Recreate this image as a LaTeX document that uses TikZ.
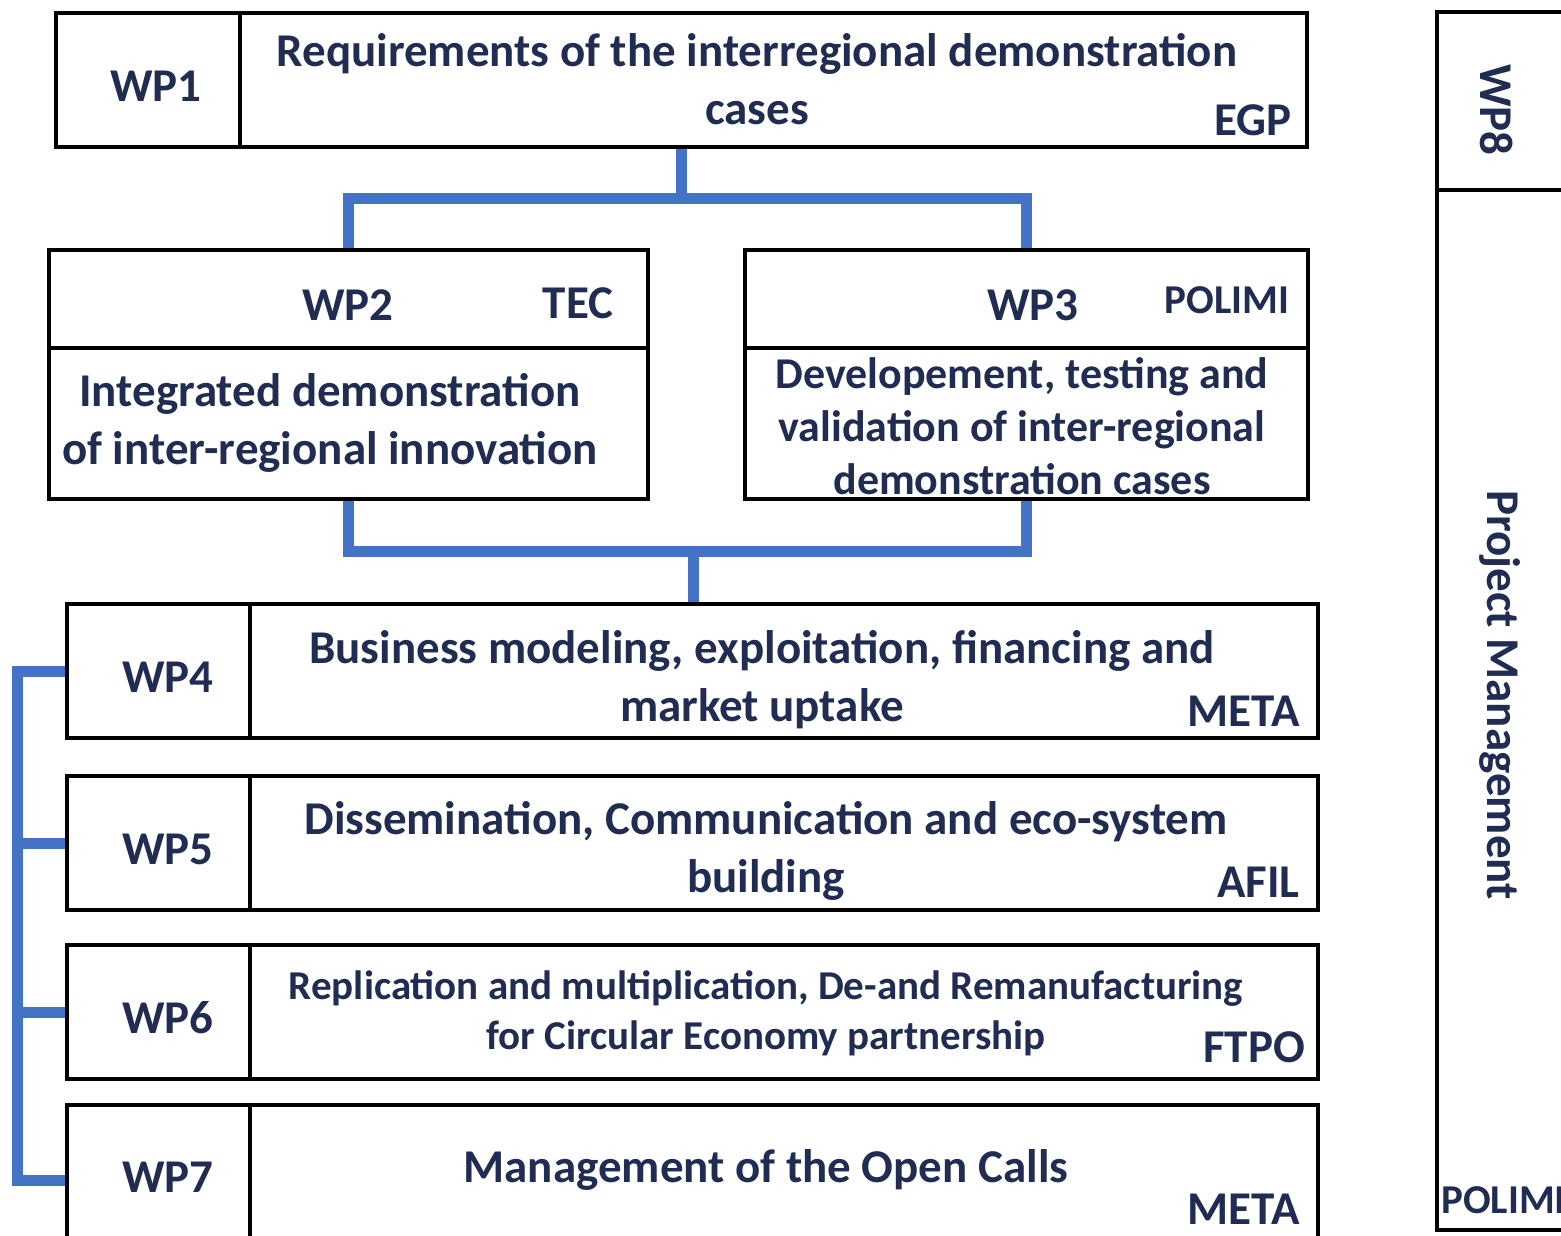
\documentclass[tikz,border=0pt]{standalone}
\usepackage{fontspec}
\setmainfont{Carlito}
\usetikzlibrary{positioning}
\definecolor{wpnavy}{RGB}{32,44,82}
\definecolor{wpblue}{RGB}{68,114,196}

\begin{document}
\begin{tikzpicture}[x=1pt,y=-1pt,
    cell/.style={draw=black,line width=4pt,inner sep=0pt},
    txt/.style={text=wpnavy,font=\bfseries\fontsize{47}{58}\selectfont,
                align=center,inner sep=0pt},
    small/.style={txt,font=\bfseries\fontsize{41}{50}\selectfont},
    lead/.style={txt,anchor=east},
    link/.style={draw=wpblue,line width=11pt}]
  \useasboundingbox (0,0) rectangle (1561,1235);
  \clip (0,0) rectangle (1561,1235);

  % WP1
  \node[cell,minimum width=184pt,minimum height=134pt] (wp1)  at (148,80)  {};
  \node[cell,minimum width=1067pt,minimum height=134pt] (wp1t) at (773.5,80) {};
  \node[txt]  (wp1l) at (156,86)   {WP1};
  \node[txt]  (wp1d) at (757,79)   {Requirements of the interregional demonstration\\cases};
  \node[lead] (egp)  at (1292,120) {EGP};

  % WP2 and WP3
  \node[cell,minimum width=599pt,minimum height=98pt]  (wp2)  at (348.5,299)   {};
  \node[cell,minimum width=599pt,minimum height=151pt] (wp2t) at (348.5,423.5) {};
  \node[txt]  (wp2l) at (348,305) {WP2};
  \node[txt]  (tec)  at (578,303) {TEC};
  \node[txt]  (wp2d) at (330,423) {Integrated demonstration\\of inter-regional innovation};

  \node[cell,minimum width=563pt,minimum height=98pt]  (wp3)  at (1026.5,299)   {};
  \node[cell,minimum width=563pt,minimum height=151pt] (wp3t) at (1026.5,423.5) {};
  \node[txt]   (wp3l) at (1033,305) {WP3};
  \node[small] (pol3) at (1227,300) {POLIMI};
  \node[txt,font=\bfseries\fontsize{44}{53}\selectfont]
               (wp3d) at (1022,426) {Developement, testing and\\validation of inter-regional\\demonstration cases};

  % WP4 - WP7
  \node[cell,minimum width=183pt,minimum height=134pt]  (wp4)  at (158.5,671) {};
  \node[cell,minimum width=1068pt,minimum height=134pt] (wp4t) at (784,671)   {};
  \node[txt]  (wp4l) at (168,677) {WP4};
  \node[txt]  (wp4d) at (762,680) {Business modeling, exploitation, financing and\\market uptake};
  \node[lead] (meta) at (1300,711) {META};

  \node[cell,minimum width=183pt,minimum height=134pt]  (wp5)  at (158.5,843) {};
  \node[cell,minimum width=1068pt,minimum height=134pt] (wp5t) at (784,843)   {};
  \node[txt]  (wp5l) at (168,849) {WP5};
  \node[txt]  (wp5d) at (766,851) {Dissemination, Communication and eco-system\\building};
  \node[lead] (afil) at (1300,882) {AFIL};

  \node[cell,minimum width=183pt,minimum height=134pt]  (wp6)  at (158.5,1012) {};
  \node[cell,minimum width=1068pt,minimum height=134pt] (wp6t) at (784,1012)   {};
  \node[txt]   (wp6l) at (168,1018) {WP6};
  \node[small] (wp6d) at (766,1013) {Replication and multiplication, De-and Remanufacturing\\for Circular Economy partnership};
  \node[lead]  (ftpo) at (1305,1047) {FTPO};

  \node[cell,minimum width=183pt,minimum height=145pt]  (wp7)  at (158.5,1177.5) {};
  \node[cell,minimum width=1068pt,minimum height=145pt] (wp7t) at (784,1177.5)   {};
  \node[txt]  (wp7l) at (168,1177) {WP7};
  \node[txt]  (wp7d) at (766,1170) {Management of the Open Calls};
  \node[lead] (meta7) at (1300,1209) {META};

  % WP8
  \node[cell,minimum width=163pt,minimum height=178pt]  (wp8)  at (1518.5,101) {};
  \node[cell,minimum width=163pt,minimum height=1040pt] (wp8t) at (1518.5,710) {};
  \node[txt,rotate=-90]  (wp8l) at (1497,110) {WP8};
  \node[txt,rotate=-90]  (wp8d) at (1500,695) {Project Management};
  \node[small,anchor=west] (pol8) at (1441,1200) {POLIMI};

  % connectors
  \coordinate (m1) at (681,198);
  \coordinate (m2) at (693,551);
  \coordinate (b4) at (17,671);
  \draw[link] (wp1t.south -| m1) -- (m1);
  \draw[link] (wp2.north) |- (m1) -| (wp3.north);
  \draw[link] (wp2t.south) |- (m2) -| (wp3t.south);
  \draw[link] (m2) -- (m2 |- wp4t.north);
  \draw[link] (wp4.west) -- (b4) -- (b4 |- 0,1180) -- (wp7.west |- 0,1180);
  \draw[link] (wp5.west -| b4) -- (wp5.west);
  \draw[link] (wp6.west -| b4) -- (wp6.west);
\end{tikzpicture}
\end{document}
